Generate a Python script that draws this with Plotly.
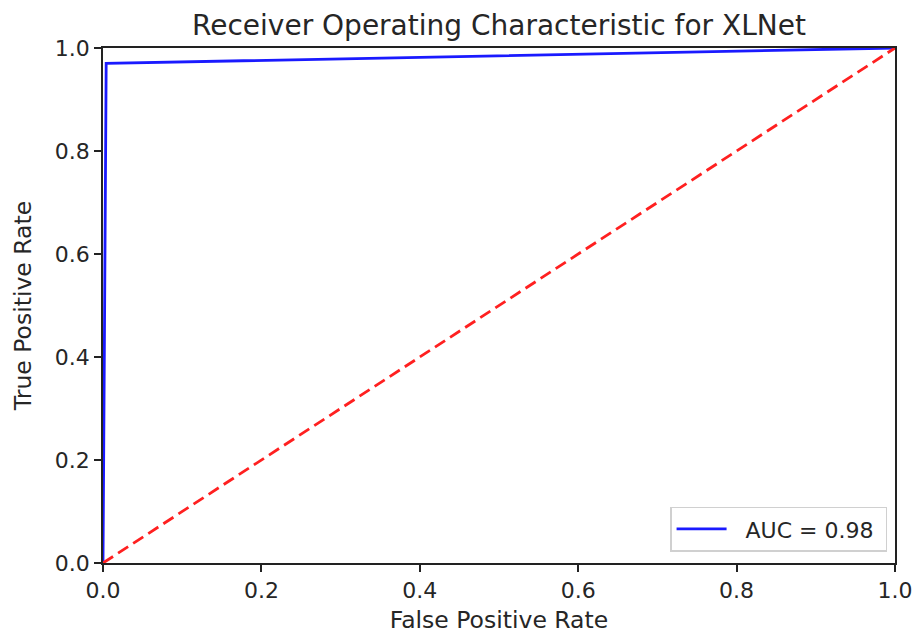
import plotly.graph_objects as go

fpr = [0.0, 0.004, 1.0]
tpr = [0.0, 0.97, 1.0]
diag_x = [0.0, 1.0]
diag_y = [0.0, 1.0]
auc_label = "AUC = 0.98"
ticks = [0.0, 0.2, 0.4, 0.6, 0.8, 1.0]
tick_text = ["0.0", "0.2", "0.4", "0.6", "0.8", "1.0"]

FONT = "DejaVu Sans"
TXT = "#262626"

fig = go.Figure()
fig.add_trace(go.Scatter(x=fpr, y=tpr, mode="lines",
                         name="\u00a0\u00a0" + auc_label + "\u00a0",
                         line=dict(color="#1a1aff", width=2.8)))
fig.add_trace(go.Scatter(x=diag_x, y=diag_y, mode="lines", showlegend=False,
                         line=dict(color="#ff2020", width=2.8, dash="12px,6px")))

axis_common = dict(range=[0, 1], tickvals=ticks, ticktext=tick_text,
                   showline=True, linecolor="#222", linewidth=1.6, mirror=True,
                   ticks="outside", ticklen=7, tickcolor="#222", tickwidth=1.6,
                   showgrid=False, zeroline=False, automargin=False,
                   tickfont=dict(family=FONT, size=22, color=TXT))

fig.update_layout(
    width=913, height=634,
    margin=dict(l=103, r=18, t=48, b=71),
    paper_bgcolor="white", plot_bgcolor="white",
    title=dict(text="Receiver Operating Characteristic for XLNet",
               x=(103 + 895) / 2 / 913, xanchor="center", y=1 - 25 / 634, yanchor="middle",
               font=dict(family=FONT, size=28, color=TXT)),
    xaxis=dict(**axis_common, title=dict(text="False Positive Rate", standoff=17,
               font=dict(family=FONT, size=23.5, color=TXT))),
    yaxis=dict(**axis_common, title=dict(text="True Positive Rate", standoff=17,
               font=dict(family=FONT, size=23.5, color=TXT))),
    legend=dict(x=0.99, y=0.022, xanchor="right", yanchor="bottom",
                bordercolor="#d0d0d0", borderwidth=1.5, bgcolor="rgba(255,255,255,0.8)",
                itemwidth=50,
                font=dict(family=FONT, size=22, color=TXT)),
)

fig.write_html("out.html")
